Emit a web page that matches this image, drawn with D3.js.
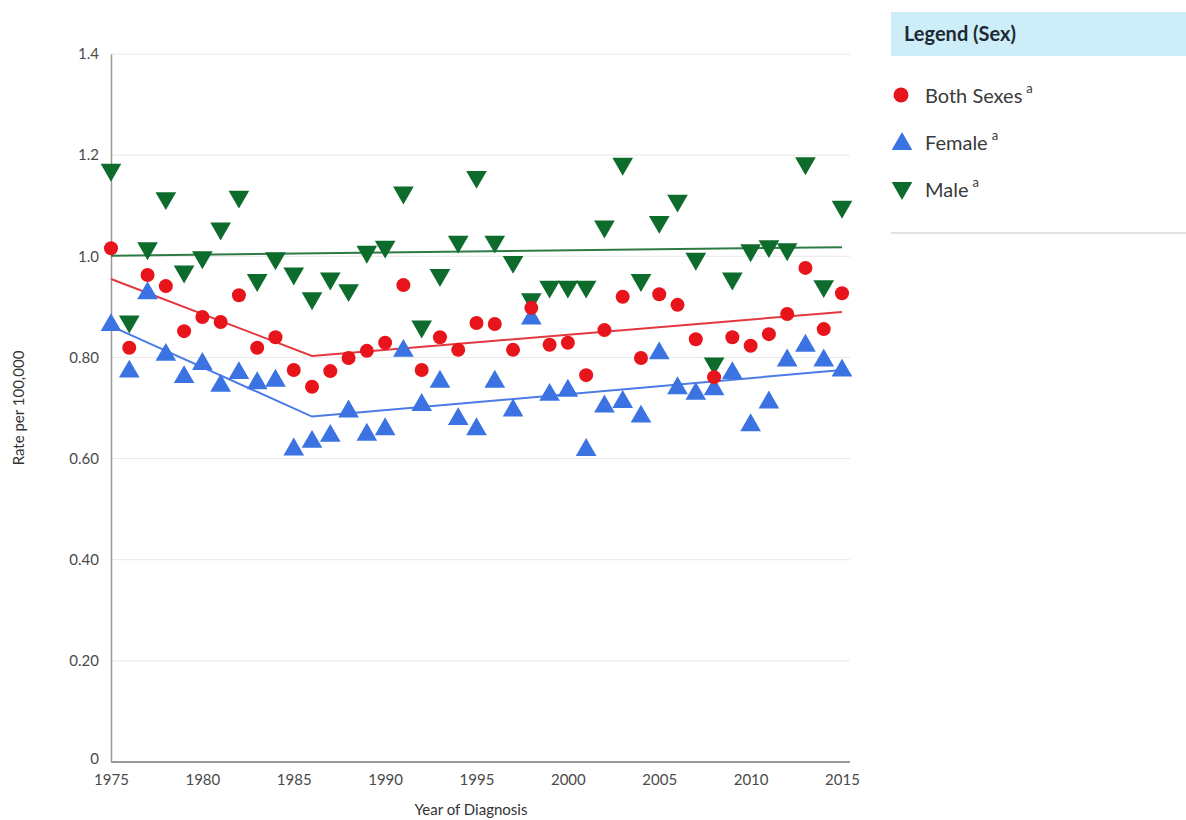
<!DOCTYPE html>
<html>
<head>
<meta charset="utf-8">
<script src="https://cdn.jsdelivr.net/npm/d3@7"></script>
<style>
  body { margin: 0; background: #fff; font-family: Lato, "Open Sans", sans-serif; }
  .axis text { font-size: 15px; fill: #4a4a4a; font-family: Lato, sans-serif; }
  .axis path, .axis line { stroke: #999; }
  .grid line { stroke: #e8e8e8; }
</style>
</head>
<body>
<div id="chart"></div>
<script>
// years of diagnosis
const years = d3.range(1975, 2016);

// observed rates per 100,000
const bothSexes = [1.016, 0.819, 0.963, 0.941, 0.852, 0.880, 0.870, 0.923, 0.819, 0.840,
  0.775, 0.742, 0.773, 0.799, 0.813, 0.829, 0.943, 0.775, 0.840, 0.815,
  0.868, 0.866, 0.815, 0.898, 0.825, 0.829, 0.765, 0.854, 0.920, 0.799,
  0.925, 0.904, 0.836, 0.761, 0.840, 0.823, 0.846, 0.886, 0.977, 0.856, 0.927];
const female = [0.864, 0.772, 0.927, 0.805, 0.761, 0.787, 0.744, 0.769, 0.749, 0.754,
  0.618, 0.633, 0.645, 0.693, 0.647, 0.658, 0.813, 0.706, 0.752, 0.678,
  0.658, 0.752, 0.695, 0.877, 0.726, 0.734, 0.617, 0.703, 0.712, 0.683,
  0.808, 0.739, 0.728, 0.737, 0.769, 0.666, 0.711, 0.794, 0.823, 0.794, 0.774];
const male = [1.171, 0.871, 1.016, 1.115, 0.970, 0.998, 1.055, 1.118, 0.953, 0.996,
  0.966, 0.917, 0.956, 0.933, 1.009, 1.019, 1.126, 0.861, 0.963, 1.029,
  1.157, 1.029, 0.989, 0.915, 0.940, 0.940, 0.940, 1.059, 1.183, 0.953,
  1.068, 1.110, 0.995, 0.788, 0.956, 1.012, 1.020, 1.014, 1.184, 0.941, 1.098];

// fitted trend joinpoints [year, rate]
const bothTrend = [[1975, 0.955], [1986, 0.803], [2015, 0.890]];
const femaleTrend = [[1975, 0.862], [1986, 0.683], [2015, 0.775]];
const maleTrend = [[1975, 1.001], [2015, 1.018]];

const yTicks = [0, 0.2, 0.4, 0.6, 0.8, 1.0, 1.2, 1.4];
const yTickLabels = ["0", "0.20", "0.40", "0.60", "0.80", "1.0", "1.2", "1.4"];
const xTicks = [1975, 1980, 1985, 1990, 1995, 2000, 2005, 2010, 2015];

const seriesNames = ["Both Sexes", "Female", "Male"];

const W = 1186, H = 820;
const margin = {top: 54, right: 344, bottom: 58, left: 111};
const width = W - margin.left - margin.right;
const height = H - margin.top - margin.bottom;

const svg = d3.select("#chart").append("svg")
    .attr("width", W)
    .attr("height", H);

const g = svg.append("g")
    .attr("transform", `translate(${margin.left},${margin.top})`);

const x = d3.scaleLinear().domain([1975, 2015]).range([0, width]);
const y = d3.scaleLinear().domain([0, 1.4]).range([height, 0]);

// grid
g.append("g").attr("class", "grid")
    .selectAll("line")
    .data(yTicks.filter(d => d > 0))
    .enter().append("line")
    .attr("x1", 0).attr("x2", width + 8)
    .attr("y1", d => y(d)).attr("y2", d => y(d));

// axes
const yAxis = d3.axisLeft(y).tickValues(yTicks).tickSize(0).tickPadding(12)
    .tickFormat((d, i) => yTickLabels[i]);
g.append("g").attr("class", "axis y-axis").call(yAxis)
    .call(s => s.select(".domain").attr("stroke", "#999").attr("stroke-width", 1.5))
    .call(s => s.selectAll(".tick text").filter(d => d === 0).attr("dy", "0.1em"));

const xAxis = d3.axisBottom(x).tickValues(xTicks).tickSize(0).tickPadding(12)
    .tickFormat(d3.format("d"));
g.append("g").attr("class", "axis x-axis")
    .attr("transform", `translate(0,${height})`)
    .call(xAxis)
    .call(s => s.select(".domain").attr("d", `M0,0H${width + 8}`).attr("stroke", "#999").attr("stroke-width", 2));

// axis labels
g.append("text")
    .attr("transform", `translate(-87,${height / 2})rotate(-90)`)
    .attr("text-anchor", "middle")
    .style("font-size", "15px").style("fill", "#333")
    .text("Rate per 100,000");

g.append("text")
    .attr("x", x(1994.7))
    .attr("y", height + 53)
    .attr("text-anchor", "middle")
    .style("font-size", "15px").style("fill", "#333")
    .text("Year of Diagnosis");

const colors = {both: "#e8141b", female: "#3b73e3", male: "#0d6b2b"};
const lineColors = {both: "#e2383e", female: "#4a7be6", male: "#2e7a45"};

// trend lines
const line = d3.line().x(d => x(d[0])).y(d => y(d[1]));
[[maleTrend, lineColors.male], [bothTrend, lineColors.both], [femaleTrend, lineColors.female]]
    .forEach(([data, c]) => {
        g.append("path").datum(data)
            .attr("d", line)
            .attr("fill", "none")
            .attr("stroke", c)
            .attr("stroke-width", 2);
    });

const triUp = d3.symbol().type(d3.symbolTriangle).size(185);

// male down triangles
g.append("g").selectAll("path")
    .data(male)
    .enter().append("path")
    .attr("d", triUp)
    .attr("transform", (d, i) => `translate(${x(years[i])},${y(d)})rotate(180)`)
    .attr("fill", colors.male);

// female up triangles
g.append("g").selectAll("path")
    .data(female)
    .enter().append("path")
    .attr("d", triUp)
    .attr("transform", (d, i) => `translate(${x(years[i])},${y(d)})`)
    .attr("fill", colors.female);

// both sexes circles
g.append("g").selectAll("circle")
    .data(bothSexes)
    .enter().append("circle")
    .attr("cx", (d, i) => x(years[i]))
    .attr("cy", d => y(d))
    .attr("r", 7)
    .attr("fill", colors.both);

// legend
const legend = svg.append("g").attr("transform", "translate(891,12)");
legend.append("rect")
    .attr("width", W - 891).attr("height", 44)
    .attr("fill", "#cdedf8");
legend.append("text")
    .attr("x", 13).attr("y", 29)
    .style("font-size", "20px").style("font-weight", "bold").style("fill", "#1d2a33")
    .text("Legend (Sex)");

const items = legend.selectAll(".item")
    .data(seriesNames)
    .enter().append("g")
    .attr("class", "item")
    .attr("transform", (d, i) => `translate(0,${83 + i * 47})`);

items.each(function (d, i) {
    const it = d3.select(this);
    if (i === 0) {
        it.append("circle").attr("cx", 10).attr("cy", 0).attr("r", 7.5).attr("fill", colors.both);
    } else if (i === 1) {
        it.append("path").attr("d", triUp).attr("transform", "translate(11,2)").attr("fill", colors.female);
    } else {
        it.append("path").attr("d", triUp).attr("transform", "translate(11,-1)rotate(180)").attr("fill", colors.male);
    }
    const t = it.append("text")
        .attr("x", 34).attr("y", 8)
        .style("font-size", "20px").style("fill", "#3a3a3a")
        .text(d);
    t.append("tspan")
        .attr("dx", 4).attr("dy", -10)
        .style("font-size", "13px")
        .text("a");
});

legend.append("line")
    .attr("x1", 0).attr("x2", W - 891)
    .attr("y1", 221).attr("y2", 221)
    .attr("stroke", "#e2e2e2").attr("stroke-width", 2);
</script>
</body>
</html>
